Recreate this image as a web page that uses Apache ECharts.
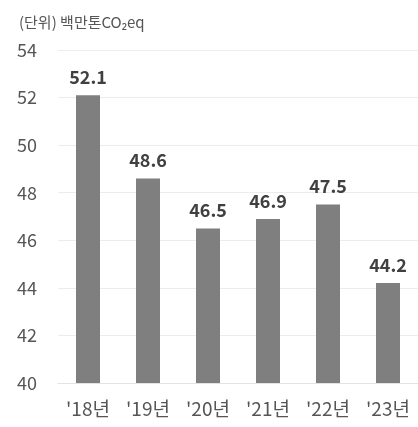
<!DOCTYPE html>
<html><head><meta charset="utf-8">
<script src="https://cdn.jsdelivr.net/npm/echarts@6/dist/echarts.min.js"></script>
<style>html,body{margin:0;padding:0;background:#fff}#c{width:418px;height:427px}</style>
</head><body><div id="c"></div>
<script>
const categories = ["'18년", "'19년", "'20년", "'21년", "'22년", "'23년"];
const values = [52.1, 48.6, 46.5, 46.9, 47.5, 44.2];
const unitLabel = "(단위) 백만톤CO₂eq";
const FONT = "'Noto Sans CJK KR', 'Noto Sans', sans-serif";
const chart = echarts.init(document.getElementById('c'));
chart.setOption({
  animation: false,
  textStyle: { fontFamily: FONT },
  title: {
    text: unitLabel, left: 14, top: 10,
    textStyle: { fontFamily: FONT, fontSize: 15, fontWeight: 'normal', color: '#555' }
  },
  grid: { left: 58, right: 0, top: 50, bottom: 44, containLabel: false },
  xAxis: {
    type: 'category', data: categories,
    axisLine: { show: true, lineStyle: { color: '#e3e3e3' } },
    axisTick: { show: false },
    axisLabel: { interval: 0, hideOverlap: false, fontFamily: FONT, fontSize: 19, color: '#555', margin: 16 }
  },
  yAxis: {
    type: 'value', min: 40, max: 54, interval: 2,
    axisLine: { show: false }, axisTick: { show: false },
    splitLine: { lineStyle: { color: '#ececec' } },
    axisLabel: { fontFamily: FONT, fontSize: 18, color: '#555', margin: 21 }
  },
  series: [{
    type: 'bar', data: values, barWidth: 24,
    itemStyle: { color: '#7f7f7f' },
    label: { show: true, position: 'top', distance: 9, fontFamily: FONT, fontSize: 18, fontWeight: 'bold', color: '#404040' }
  }]
});
</script></body></html>
